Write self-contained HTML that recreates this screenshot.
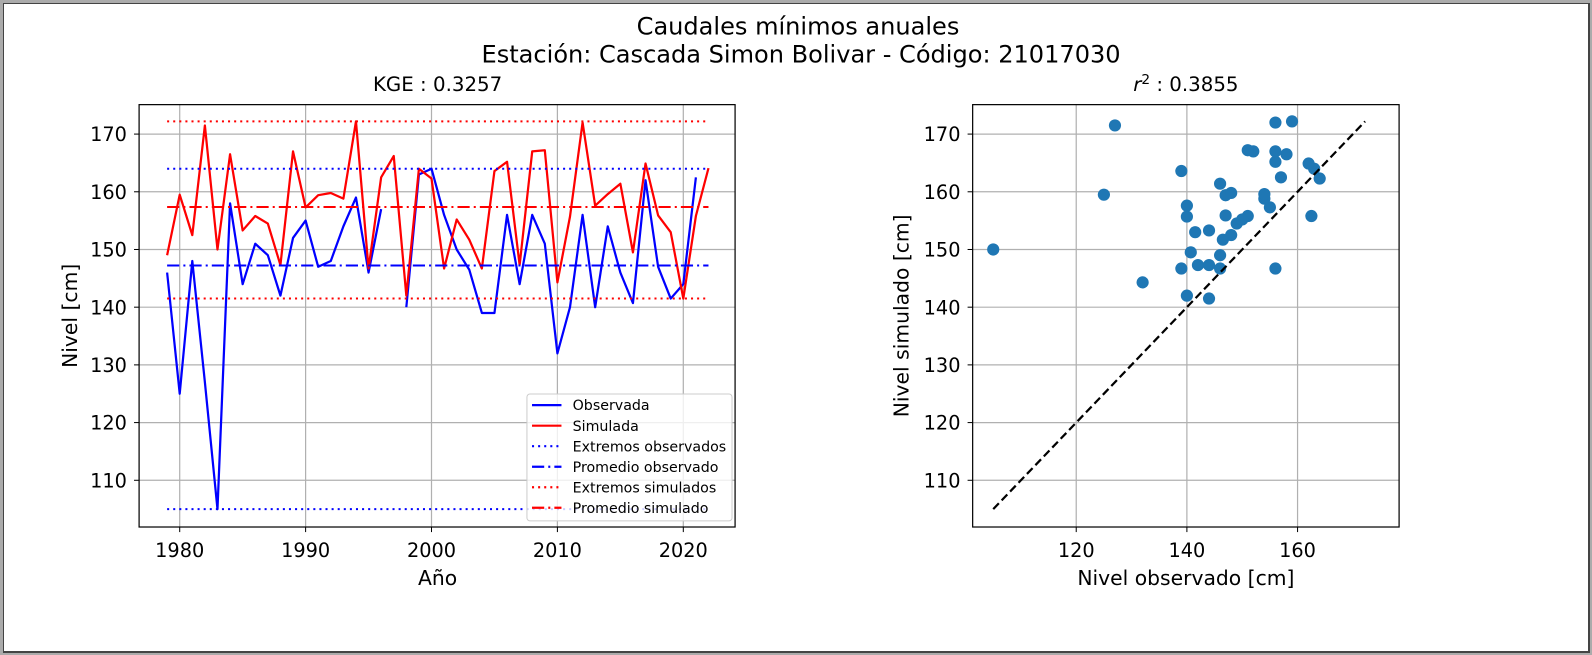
<!DOCTYPE html>
<html><head><meta charset="utf-8">
<style>
html,body{margin:0;padding:0;background:#ababab;width:1592px;height:655px;overflow:hidden}
#frame{position:absolute;left:3px;top:3px;width:1584px;height:647px;background:#fff;border:1px solid #444;border-right-width:2px;border-bottom-width:2px}
svg{position:absolute;left:0;top:0}
text{font-family:"DejaVu Sans","Liberation Sans",sans-serif;fill:#000}
</style></head>
<body>
<div id="frame"></div>
<svg id="fig" width="1592" height="655" viewBox="0 0 1568 645"></svg>
<script>
const years=[1979,1980,1981,1982,1983,1984,1985,1986,1987,1988,1989,1990,1991,1992,1993,1994,1995,1996,1997,1998,1999,2000,2001,2002,2003,2004,2005,2006,2007,2008,2009,2010,2011,2012,2013,2014,2015,2016,2017,2018,2019,2020,2021,2022];
const observed=[146,125,148,127,105,158,144,151,149,142,152,155,147,148,154,159,146,157,null,140,163,164,156,150,146.5,139,139,156,144,156,151,132,140,156,140,154,146,140.7,162,147,141.5,144,162.5,null];
const simulated=[149,159.5,152.5,171.5,150,166.5,153.3,155.8,154.5,147.3,167,157.3,159.4,159.8,158.8,172.2,146.7,162.5,166.2,142,164,162.3,146.7,155.2,151.7,146.7,163.6,165.2,147.3,167,167.2,144.3,155.7,172,157.6,159.6,161.4,149.5,164.9,155.9,153,141.5,155.8,164.1];
const xTicksL=[1980,1990,2000,2010,2020];
const yTicks=[110,120,130,140,150,160,170];
const xTicksR=[120,140,160];

const NS="http://www.w3.org/2000/svg";
const svg=document.getElementById('fig');
function mk(tag,attrs,parent){const e=document.createElementNS(NS,tag);for(const k in attrs)e.setAttribute(k,attrs[k]);(parent||svg).appendChild(e);return e;}
function txt(s,x,y,size,anchor,parent,extra){const t=mk('text',Object.assign({x:x,y:y,'font-size':size,'text-anchor':anchor||'middle'},extra||{}),parent);t.textContent=s;return t;}

const yTop=103,yBot=519;
const yv=v=>132+(170-v)*5.683;
const xL=v=>177+(v-1980)*12.4;
const xR=v=>1060+(v-120)*5.45;
const TICK=19, LAB=20;

let t=txt('Caudales mínimos anuales',786,34,23.7);

t=txt('Estación: Cascada Simon Bolivar - Código: 21017030',789,61.5,23.7);


const gL=mk('g',{});

const L0=137,L1=724;
t=txt('KGE : 0.3257',431,89.5,19.5,'middle',gL);

xTicksL.forEach(v=>{const x=xL(v);
 let l=mk('line',{x1:x,x2:x,y1:yTop,y2:yBot,stroke:'#b0b0b0','stroke-width':1.2},gL);
 
 mk('line',{x1:x,x2:x,y1:yBot,y2:yBot+5,stroke:'#000'},gL);
 let tt=txt(String(v),x,548.5,TICK,'middle',gL);
 });
yTicks.forEach(v=>{const y=yv(v);
 let l=mk('line',{x1:L0,x2:L1,y1:y,y2:y,stroke:'#b0b0b0','stroke-width':1.2},gL);
 
 mk('line',{x1:L0-5,x2:L0,y1:y,y2:y,stroke:'#000'},gL);
 let tt=txt(String(v),L0-12,y+7,TICK,'end',gL);
 });
const obsVals=observed.filter(v=>v!==null);
const obsMin=Math.min(...obsVals),obsMax=Math.max(...obsVals),obsMean=obsVals.reduce((a,b)=>a+b,0)/obsVals.length;
const simMin=Math.min(...simulated),simMax=Math.max(...simulated),simMean=simulated.reduce((a,b)=>a+b,0)/simulated.length;
const xa=xL(years[0]),xb=xL(years[years.length-1]);
function hline(v,color,dash,name){const l=mk('line',{x1:xa,x2:xb,y1:yv(v),y2:yv(v),stroke:color,'stroke-width':2,'stroke-dasharray':dash},gL);
 }
function series(arr,color,name){let d='',pen=false;arr.forEach((v,i)=>{if(v===null){pen=false;return;}d+=(pen?'L':'M')+xL(years[i]).toFixed(1)+' '+yv(v).toFixed(1)+' ';pen=true;});
 const p=mk('path',{d:d,fill:'none',stroke:color,'stroke-width':2.2,'stroke-linejoin':'round'},gL);
 }
series(observed,'#0000ff','observed-line');
series(simulated,'#ff0000','simulated-line');
hline(obsMin,'#0000ff','2,4','observed-min-line');
hline(obsMax,'#0000ff','2,4','observed-max-line');
hline(obsMean,'#0000ff','12,4,2,4','observed-mean-line');
hline(simMin,'#ff0000','2,4','simulated-min-line');
hline(simMax,'#ff0000','2,4','simulated-max-line');
hline(simMean,'#ff0000','12,4,2,4','simulated-mean-line');
mk('rect',{x:L0,y:yTop,width:L1-L0,height:yBot-yTop,fill:'none',stroke:'#000','stroke-width':1.2},gL);
t=txt('Año',431,576,LAB,'middle',gL);

t=txt('Nivel [cm]',76,311,LAB,'middle',gL,{transform:'rotate(-90 76 311)'});

const lg=mk('g',{},gL);

mk('rect',{x:519,y:388,width:202,height:125,fill:'#fff','fill-opacity':0.8,stroke:'#ccc',rx:3},lg);
const legItems=[['Observada','#0000ff',''],['Simulada','#ff0000',''],['Extremos observados','#0000ff','2,4'],['Promedio observado','#0000ff','12,4,2,4'],['Extremos simulados','#ff0000','2,4'],['Promedio simulado','#ff0000','12,4,2,4']];
legItems.forEach((it,i)=>{const y=399+i*20.2;const g=mk('g',{},lg);
 
 mk('line',{x1:524,x2:553,y1:y,y2:y,stroke:it[1],'stroke-width':2.2,'stroke-dasharray':it[2]},g);
 txt(it[0],564,y+5,14,'start',g);});

const gR=mk('g',{});

const R0=958,R1=1378;
t=mk('text',{x:1168,y:89.5,'font-size':19.5,'text-anchor':'middle'},gR);
t.innerHTML='<tspan font-style="italic">r</tspan><tspan dy="-7" font-size="13.5">2</tspan><tspan dy="7"> : 0.3855</tspan>';

xTicksR.forEach(v=>{const x=xR(v);
 let l=mk('line',{x1:x,x2:x,y1:yTop,y2:yBot,stroke:'#b0b0b0','stroke-width':1.2},gR);
 
 mk('line',{x1:x,x2:x,y1:yBot,y2:yBot+5,stroke:'#000'},gR);
 let tt=txt(String(v),x,548.5,TICK,'middle',gR);
 });
yTicks.forEach(v=>{const y=yv(v);
 let l=mk('line',{x1:R0,x2:R1,y1:y,y2:y,stroke:'#b0b0b0','stroke-width':1.2},gR);
 
 mk('line',{x1:R0-5,x2:R0,y1:y,y2:y,stroke:'#000'},gR);
 let tt=txt(String(v),R0-12,y+7,TICK,'end',gR);
 });
observed.forEach((v,i)=>{if(v===null||simulated[i]===null)return;
 const c=mk('circle',{cx:xR(v),cy:yv(simulated[i]),r:6,fill:'#1f77b4'},gR);
 });
const lo=Math.min(obsMin,simMin),hi=Math.max(obsMax,simMax);
const dl=mk('line',{x1:xR(lo),y1:yv(lo),x2:xR(hi),y2:yv(hi),stroke:'#000','stroke-width':2.2,'stroke-dasharray':'8,4'},gR);

mk('rect',{x:R0,y:yTop,width:R1-R0,height:yBot-yTop,fill:'none',stroke:'#000','stroke-width':1.2},gR);
t=txt('Nivel observado [cm]',1168,576,LAB,'middle',gR);

t=txt('Nivel simulado [cm]',895,311,LAB,'middle',gR,{transform:'rotate(-90 895 311)'});

</script>
</body></html>
